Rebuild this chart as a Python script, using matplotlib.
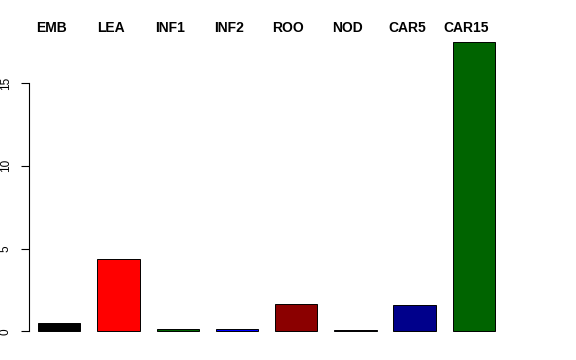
import matplotlib
matplotlib.use("Agg")
import matplotlib.pyplot as plt

plt.rcParams["font.family"] = ["Liberation Sans", "DejaVu Sans"]

# sample groups and values
groups = ["EMB", "LEA", "INF1", "INF2", "ROO", "NOD", "CAR5", "CAR15"]
values = [0.48, 4.36, 0.12, 0.12, 1.65, 0.08, 1.59, 17.46]
colors = ["#000000", "#ff0000", "#006400", "#0000ff", "#8b0000", "#4b3b5b", "#00008b", "#006400"]
yticks = [0, 5, 10, 15]

fig = plt.figure(figsize=(5.76, 3.6), dpi=100)
ax = fig.add_axes([0.0509, 0.0475, 0.8693, 0.867])

x = list(range(len(groups)))
ax.bar(x, values, width=0.714, color=colors, edgecolor="black", linewidth=0.7)

ax.set_xlim(-0.507, 7.95)
ax.set_ylim(-0.7, 18.16)

for s in ["top", "right", "bottom"]:
    ax.spines[s].set_visible(False)
ax.spines["left"].set_bounds(0, 15)
ax.spines["left"].set_linewidth(0.8)
ax.set_xticks([])
ax.set_yticks(yticks)
ax.set_yticklabels([str(t) for t in yticks], rotation=90, va="center")
ax.tick_params(axis="y", length=5.5, width=0.8, pad=7, labelsize=8.5)

# group names along the top
for i, g in enumerate(groups):
    ax.text(i - 0.13, 18.33, g, ha="center", va="center", fontsize=10,
            fontweight="bold", clip_on=False)

fig.savefig("out.png", dpi=100)
